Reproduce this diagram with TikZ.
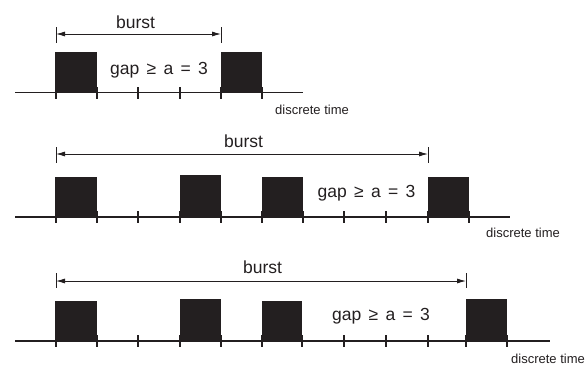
\documentclass[tikz,border=0pt]{standalone}
\usepackage{fontspec}
\setmainfont{Liberation Sans}
\newfontfamily\gapfont[WordSpace=1.5]{Liberation Sans}
\usetikzlibrary{arrows.meta}
\definecolor{ink}{HTML}{231F20}
\begin{document}
\begin{tikzpicture}[x=1pt,y=-1pt,
  axisline/.style={draw=ink, line width=1.6pt},
  tickmark/.style={draw=ink, line width=1.5pt},
  slot/.style={fill=ink, draw=none, inner sep=0pt, outer sep=0pt, anchor=south west, minimum height=41pt},
  spanline/.style={draw=ink, line width=0.8pt, {Latex[length=9pt,width=5pt]}-{Latex[length=9pt,width=5pt]}},
  endbar/.style={draw=ink, line width=0.8pt},
  lbl/.style={font=\fontsize{17.5}{20}\selectfont, text=ink, inner sep=0pt, anchor=base},
  gaplbl/.style={font=\gapfont\fontsize{17.5}{20}\selectfont, text=ink, inner sep=0pt, anchor=base},
  timelbl/.style={font=\fontsize{13}{15}\selectfont, text=ink, inner sep=0pt, anchor=base west}
]
\useasboundingbox (0,0) rectangle (585,365);

% ---------- panel 1 ----------
\coordinate (a1s) at (15,92.5);
\coordinate (a1e) at (303,92.5);
\draw[axisline] (a1s) -- (a1e);
\foreach \x in {56,97,138,180,221,262} \draw[tickmark] (\x,87) -- (\x,98.5);
\node[slot, minimum width=42pt] (p1b1) at (55,93) {};
\node[slot, minimum width=41pt] (p1b2) at (221,93) {};
\coordinate (p1L) at (56,34);
\coordinate (p1R) at (221,34);
\draw[endbar] (56,27) -- (56,43);
\draw[endbar] (221,27) -- (221,43);
\draw[spanline] (p1L) -- (p1R);
\node[lbl] (p1burst) at (135.5,28) {burst};
\node[gaplbl] (p1gap) at (159,74) {gap ≥ a = 3};
\node[timelbl] (p1time) at (275,114) {discrete time};

% ---------- panel 2 ----------
\coordinate (a2s) at (15,217);
\coordinate (a2e) at (510,217);
\draw[axisline] (a2s) -- (a2e);
\foreach \x in {56,97,138,180,221,262,303,344,386,428,469} \draw[tickmark] (\x,211) -- (\x,222.5);
\node[slot, minimum width=42pt] (p2b1) at (55,217.5) {};
\node[slot, minimum width=41pt, minimum height=43pt] (p2b2) at (180,217.5) {};
\node[slot, minimum width=41pt] (p2b3) at (262,217.5) {};
\node[slot, minimum width=41pt] (p2b4) at (428,217.5) {};
\coordinate (p2L) at (56,154);
\coordinate (p2R) at (428,154);
\draw[endbar] (56,147) -- (56,163);
\draw[endbar] (428,147) -- (428,163);
\draw[spanline] (p2L) -- (p2R);
\node[lbl] (p2burst) at (243.5,147) {burst};
\node[gaplbl] (p2gap) at (366.5,197) {gap ≥ a = 3};
\node[timelbl] (p2time) at (486,237) {discrete time};

% ---------- panel 3 ----------
\coordinate (a3s) at (15,341);
\coordinate (a3e) at (550,341);
\draw[axisline] (a3s) -- (a3e);
\foreach \x in {56,97,138,180,221,262,302,344,386,428,466,507} \draw[tickmark] (\x,335) -- (\x,347);
\node[slot, minimum width=42pt] (p3b1) at (55,341.5) {};
\node[slot, minimum width=41pt, minimum height=43pt] (p3b2) at (180,341.5) {};
\node[slot, minimum width=40pt] (p3b3) at (262,341.5) {};
\node[slot, minimum width=41pt, minimum height=43pt] (p3b4) at (466,341.5) {};
\coordinate (p3L) at (56,281);
\coordinate (p3R) at (466,281);
\draw[endbar] (56,273) -- (56,288);
\draw[endbar] (466,273) -- (466,288);
\draw[spanline] (p3L) -- (p3R);
\node[lbl] (p3burst) at (262.5,273) {burst};
\node[gaplbl] (p3gap) at (381,320) {gap ≥ a = 3};
\node[timelbl] (p3time) at (511,363) {discrete time};
\end{tikzpicture}
\end{document}
